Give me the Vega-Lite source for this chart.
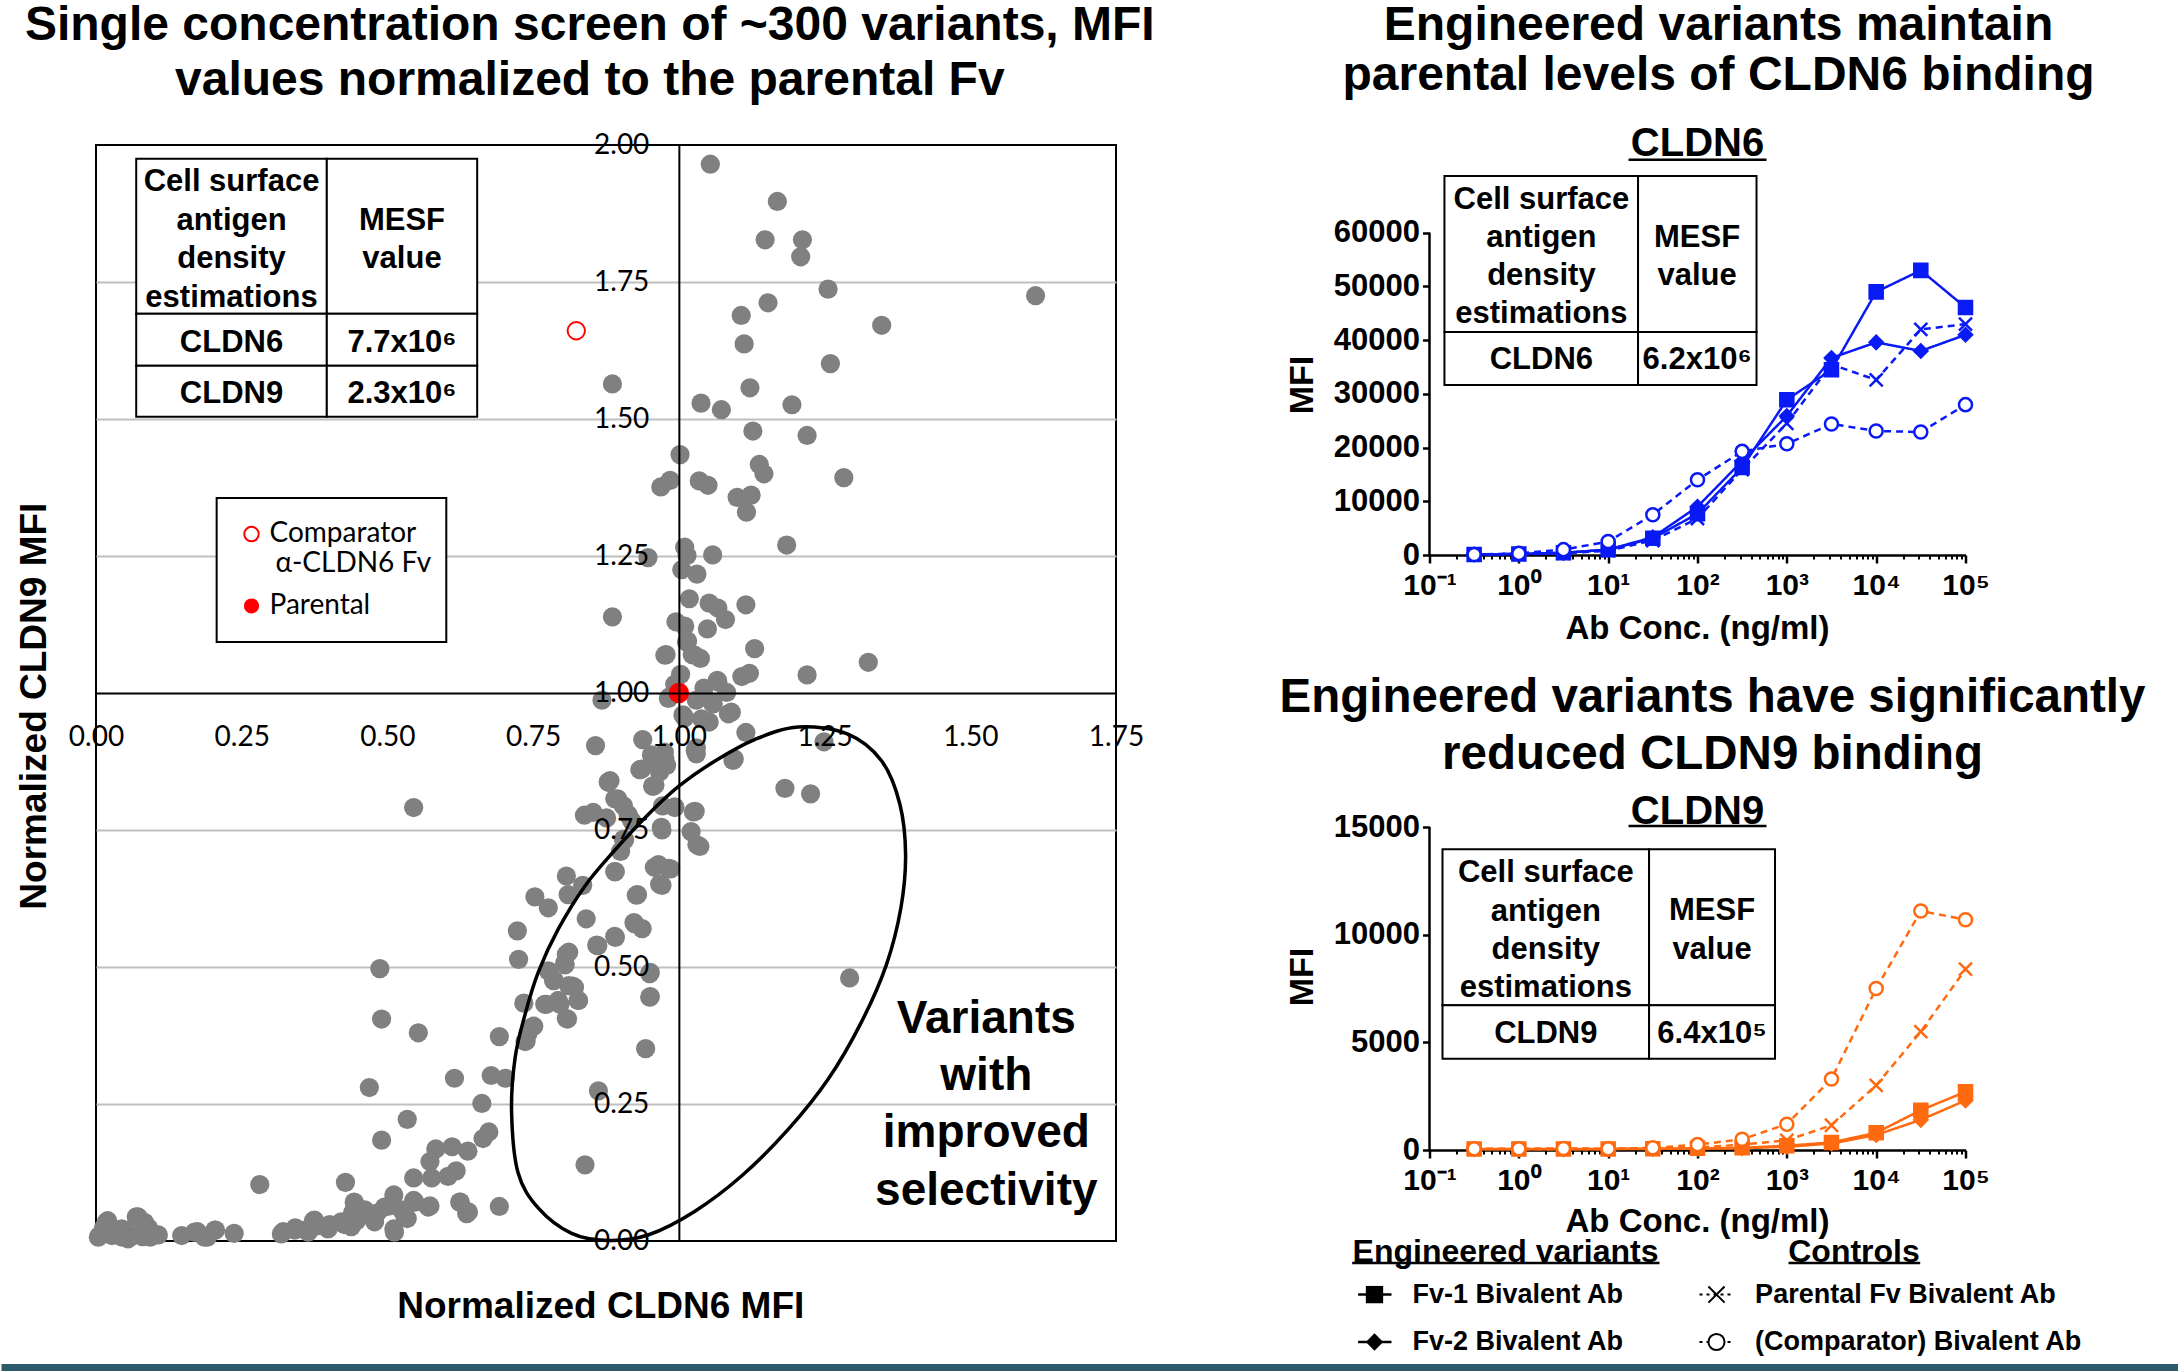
{
"$schema": "https://vega.github.io/schema/vega-lite/v6.json",
"background": "white",
"padding": 0,
"config": {"view": {"stroke": null}},
"bounds": "flush",
"spacing": 313.5,
"datasets": {
"pts": [
{"x":1.054,"y":1.965},{"x":1.169,"y":1.897},{"x":1.148,"y":1.827},{"x":1.212,"y":1.827},{"x":1.209,"y":1.796},{"x":1.256,"y":1.737},{"x":1.612,"y":1.725},{"x":1.153,"y":1.712},{"x":1.107,"y":1.689},{"x":1.348,"y":1.671},{"x":1.112,"y":1.637},{"x":1.26,"y":1.601},{"x":0.886,"y":1.564},{"x":1.122,"y":1.557},{"x":1.038,"y":1.529},{"x":1.073,"y":1.517},{"x":1.194,"y":1.526},{"x":1.127,"y":1.478},{"x":1.22,"y":1.47},{"x":1.002,"y":1.435},{"x":1.138,"y":1.417},{"x":1.146,"y":1.4},{"x":1.283,"y":1.393},{"x":0.969,"y":1.376},{"x":0.985,"y":1.388},{"x":1.035,"y":1.387},{"x":1.05,"y":1.379},{"x":1.1,"y":1.357},{"x":1.124,"y":1.361},{"x":1.116,"y":1.33},{"x":1.185,"y":1.27},{"x":1.01,"y":1.266},{"x":0.947,"y":1.247},{"x":1.058,"y":1.252},{"x":1.014,"y":1.251},{"x":1.005,"y":1.225},{"x":1.031,"y":1.217},{"x":1.018,"y":1.172},{"x":1.052,"y":1.164},{"x":1.067,"y":1.155},{"x":1.08,"y":1.134},{"x":1.115,"y":1.161},{"x":0.886,"y":1.139},{"x":0.995,"y":1.13},{"x":1.01,"y":1.122},{"x":1.049,"y":1.117},{"x":1.015,"y":1.095},{"x":1.13,"y":1.081},{"x":0.978,"y":1.07},{"x":1.023,"y":1.07},{"x":1.037,"y":1.063},{"x":1.325,"y":1.056},{"x":1.22,"y":1.033},{"x":1.108,"y":1.03},{"x":1.121,"y":1.036},{"x":1.003,"y":1.034},{"x":0.993,"y":1.016},{"x":1.066,"y":1.023},{"x":1.082,"y":1.001},{"x":1.043,"y":1.009},{"x":0.984,"y":0.993},{"x":1.03,"y":0.987},{"x":0.868,"y":0.987},{"x":1.059,"y":0.98},{"x":1.085,"y":0.962},{"x":1.01,"y":0.955},{"x":1.052,"y":0.947},{"x":1.115,"y":0.928},{"x":0.938,"y":0.915},{"x":0.857,"y":0.904},{"x":1.03,"y":0.9},{"x":1.249,"y":0.911},
{"x":0.976,"y":1.069},{"x":1.013,"y":1.093},{"x":1.027,"y":1.069},{"x":1.067,"y":1.02},{"x":1.056,"y":0.984},{"x":1.039,"y":0.953},{"x":1.007,"y":0.96},{"x":0.982,"y":0.99},{"x":1.09,"y":0.965},{"x":0.953,"y":0.887},{"x":0.976,"y":0.88},{"x":0.967,"y":0.856},{"x":1.03,"y":0.889},{"x":1.093,"y":0.877},{"x":0.959,"y":0.832},{"x":0.993,"y":0.792},{"x":0.879,"y":0.838},{"x":0.89,"y":0.807},{"x":1.025,"y":0.783},
{"x":0.975,"y":0.892},{"x":0.961,"y":0.878},{"x":0.936,"y":0.861},{"x":0.979,"y":0.868},{"x":1.028,"y":0.895},{"x":0.882,"y":0.84},{"x":0.955,"y":0.83},{"x":0.895,"y":0.807},{"x":0.905,"y":0.794},{"x":0.838,"y":0.777},{"x":0.853,"y":0.782},{"x":0.972,"y":0.794},{"x":0.993,"y":0.791},{"x":1.028,"y":0.784},{"x":0.919,"y":0.767},{"x":0.971,"y":0.75},{"x":0.905,"y":0.733},{"x":1.021,"y":0.747},{"x":1.031,"y":0.723},{"x":0.9,"y":0.711},{"x":0.545,"y":0.791},{"x":0.958,"y":0.682},{"x":0.986,"y":0.679},{"x":0.891,"y":0.674},{"x":0.971,"y":0.649},{"x":0.807,"y":0.666},{"x":0.835,"y":0.649},{"x":0.81,"y":0.632},{"x":0.929,"y":0.632},{"x":0.753,"y":0.628},{"x":0.776,"y":0.608},{"x":0.841,"y":0.588},{"x":0.923,"y":0.581},{"x":0.937,"y":0.57},{"x":0.723,"y":0.566},{"x":0.891,"y":0.554},{"x":0.861,"y":0.539},{"x":0.811,"y":0.527},{"x":0.804,"y":0.507},{"x":0.725,"y":0.514},{"x":0.776,"y":0.493},{"x":0.487,"y":0.497},{"x":0.951,"y":0.49},{"x":0.786,"y":0.476},{"x":0.811,"y":0.466},{"x":0.821,"y":0.463},{"x":0.951,"y":0.446},{"x":0.734,"y":0.434},{"x":0.773,"y":0.432},{"x":0.793,"y":0.439},{"x":0.828,"y":0.439},{"x":0.809,"y":0.405},{"x":0.49,"y":0.405},{"x":0.553,"y":0.38},{"x":0.751,"y":0.392},{"x":0.741,"y":0.378},{"x":0.738,"y":0.365},{"x":0.692,"y":0.373},{"x":0.943,"y":0.351},{"x":0.615,"y":0.297},{"x":0.678,"y":0.302},{"x":0.702,"y":0.297},{"x":0.469,"y":0.28},{"x":0.662,"y":0.251},{"x":0.862,"y":0.274},{"x":0.534,"y":0.222},{"x":0.674,"y":0.199},{"x":0.664,"y":0.187},{"x":0.49,"y":0.184},{"x":0.583,"y":0.168},{"x":0.611,"y":0.172},{"x":0.638,"y":0.164},{"x":0.573,"y":0.145},{"x":0.618,"y":0.128},{"x":0.604,"y":0.118},{"x":0.545,"y":0.115},{"x":0.576,"y":0.115},{"x":0.839,"y":0.139},{"x":0.281,"y":0.103},{"x":0.428,"y":0.107},{"x":0.511,"y":0.084},{"x":0.545,"y":0.074},{"x":0.443,"y":0.071},{"x":0.625,"y":0.071},{"x":0.573,"y":0.064},{"x":0.692,"y":0.063},{"x":0.639,"y":0.053},{"x":0.461,"y":0.057},{"x":0.482,"y":0.051},{"x":0.503,"y":0.064},{"x":0.524,"y":0.057},{"x":0.534,"y":0.041},{"x":0.511,"y":0.022},{"x":0.447,"y":0.037},{"x":0.426,"y":0.03},{"x":0.401,"y":0.03},{"x":0.377,"y":0.027},{"x":0.359,"y":0.02},{"x":0.373,"y":0.037},{"x":0.342,"y":0.024},{"x":0.321,"y":0.017},{"x":0.237,"y":0.014},{"x":0.205,"y":0.02},{"x":0.191,"y":0.007},{"x":0.174,"y":0.017},{"x":0.147,"y":0.01},{"x":0.107,"y":0.011},{"x":0.09,"y":0.024},{"x":0.072,"y":0.044},{"x":0.083,"y":0.034},{"x":0.048,"y":0.02},{"x":0.02,"y":0.037},{"x":0.006,"y":0.01},{"x":0.027,"y":0.01},{"x":0.045,"y":0.007},{"x":0.065,"y":0.01},{"x":0.093,"y":0.007},{"x":0.013,"y":0.024},{"x":0.034,"y":0.02},{"x":0.475,"y":0.044},{"x":0.44,"y":0.051},
{"x":1.095,"y":0.88},{"x":1.182,"y":0.826},{"x":1.226,"y":0.816},{"x":1.036,"y":0.72},{"x":1.293,"y":0.48},
{"x":0.879,"y":0.837},{"x":0.913,"y":0.778},{"x":0.876,"y":0.772},{"x":0.907,"y":0.732},{"x":0.89,"y":0.674},{"x":0.956,"y":0.83},{"x":0.933,"y":0.86},{"x":0.965,"y":0.687},{"x":0.982,"y":0.68},{"x":0.967,"y":0.651},{"x":0.97,"y":0.755},{"x":0.927,"y":0.631},{"x":0.924,"y":0.579},{"x":0.89,"y":0.556},{"x":0.859,"y":0.54},{"x":0.807,"y":0.523},{"x":0.805,"y":0.504},{"x":0.785,"y":0.475},{"x":0.818,"y":0.465},{"x":0.827,"y":0.439},{"x":0.77,"y":0.432},{"x":0.796,"y":0.432},{"x":0.807,"y":0.406},{"x":0.95,"y":0.488},{"x":0.95,"y":0.445},{"x":0.747,"y":0.39},{"x":0.736,"y":0.364},
{"x":0.004,"y":0.007},{"x":0.018,"y":0.035},{"x":0.032,"y":0.011},{"x":0.044,"y":0.022},{"x":0.055,"y":0.004},{"x":0.069,"y":0.044},{"x":0.084,"y":0.029},{"x":0.08,"y":0.008},{"x":0.101,"y":0.011},{"x":0.169,"y":0.016},{"x":0.186,"y":0.007},{"x":0.204,"y":0.02},{"x":0.318,"y":0.013},{"x":0.341,"y":0.02},{"x":0.364,"y":0.016},{"x":0.375,"y":0.038},{"x":0.398,"y":0.022},{"x":0.421,"y":0.035},{"x":0.438,"y":0.026},{"x":0.444,"y":0.068},{"x":0.478,"y":0.035},{"x":0.495,"y":0.062},{"x":0.512,"y":0.016},{"x":0.53,"y":0.044},{"x":0.547,"y":0.071},{"x":0.57,"y":0.062},{"x":0.624,"y":0.071},{"x":0.636,"y":0.05}
],
"ell": [
{"i":0,"x":1.205,"y":0.938},{"i":1,"x":1.29,"y":0.925},{"i":2,"x":1.348,"y":0.876},{"i":3,"x":1.379,"y":0.798},{"i":4,"x":1.389,"y":0.706},{"i":5,"x":1.381,"y":0.608},{"i":6,"x":1.356,"y":0.504},{"i":7,"x":1.313,"y":0.399},{"i":8,"x":1.256,"y":0.295},{"i":9,"x":1.188,"y":0.204},{"i":10,"x":1.108,"y":0.119},{"i":11,"x":1.027,"y":0.054},{"i":12,"x":0.947,"y":0.011},{"i":13,"x":0.879,"y":0.001},{"i":14,"x":0.816,"y":0.014},{"i":15,"x":0.759,"y":0.06},{"i":16,"x":0.724,"y":0.125},{"i":17,"x":0.713,"y":0.236},{"i":18,"x":0.719,"y":0.334},{"i":19,"x":0.736,"y":0.413},{"i":20,"x":0.759,"y":0.491},{"i":21,"x":0.793,"y":0.569},{"i":22,"x":0.839,"y":0.648},{"i":23,"x":0.89,"y":0.713},{"i":24,"x":0.947,"y":0.778},{"i":25,"x":1.0,"y":0.83},{"i":26,"x":1.062,"y":0.876},{"i":27,"x":1.13,"y":0.915}
],
"c6": [
{"s":"A","x":0.316,"y":100},{"s":"A","x":1,"y":200},{"s":"A","x":3.16,"y":400},{"s":"A","x":10,"y":1000},{"s":"A","x":31.6,"y":3100},{"s":"A","x":100,"y":7700},{"s":"A","x":316,"y":16300},{"s":"A","x":1000,"y":28900},{"s":"A","x":3160,"y":34500},{"s":"A","x":10000,"y":49000},{"s":"A","x":31600,"y":53000},{"s":"A","x":100000,"y":46100},
{"s":"B","x":0.316,"y":100},{"s":"B","x":1,"y":200},{"s":"B","x":3.16,"y":400},{"s":"B","x":10,"y":1000},{"s":"B","x":31.6,"y":3300},{"s":"B","x":100,"y":9000},{"s":"B","x":316,"y":17500},{"s":"B","x":1000,"y":25900},{"s":"B","x":3160,"y":36700},{"s":"B","x":10000,"y":39600},{"s":"B","x":31600,"y":38000},{"s":"B","x":100000,"y":41000},
{"s":"C","x":0.316,"y":50},{"s":"C","x":1,"y":100},{"s":"C","x":3.16,"y":300},{"s":"C","x":10,"y":800},{"s":"C","x":31.6,"y":2700},{"s":"C","x":100,"y":6800},{"s":"C","x":316,"y":15900},{"s":"C","x":1000,"y":24500},{"s":"C","x":3160,"y":35500},{"s":"C","x":10000,"y":32600},{"s":"C","x":31600,"y":42000},{"s":"C","x":100000,"y":43000},
{"s":"D","x":0.316,"y":100},{"s":"D","x":1,"y":300},{"s":"D","x":3.16,"y":1000},{"s":"D","x":10,"y":2500},{"s":"D","x":31.6,"y":7500},{"s":"D","x":100,"y":14000},{"s":"D","x":316,"y":19300},{"s":"D","x":1000,"y":20700},{"s":"D","x":3160,"y":24400},{"s":"D","x":10000,"y":23100},{"s":"D","x":31600,"y":22900},{"s":"D","x":100000,"y":28000}
],
"c9": [
{"s":"A","x":0.316,"y":50},{"s":"A","x":1,"y":50},{"s":"A","x":3.16,"y":50},{"s":"A","x":10,"y":50},{"s":"A","x":31.6,"y":60},{"s":"A","x":100,"y":80},{"s":"A","x":316,"y":100},{"s":"A","x":1000,"y":200},{"s":"A","x":3160,"y":350},{"s":"A","x":10000,"y":800},{"s":"A","x":31600,"y":1850},{"s":"A","x":100000,"y":2700},
{"s":"B","x":0.316,"y":40},{"s":"B","x":1,"y":40},{"s":"B","x":3.16,"y":40},{"s":"B","x":10,"y":40},{"s":"B","x":31.6,"y":50},{"s":"B","x":100,"y":60},{"s":"B","x":316,"y":80},{"s":"B","x":1000,"y":150},{"s":"B","x":3160,"y":300},{"s":"B","x":10000,"y":700},{"s":"B","x":31600,"y":1400},{"s":"B","x":100000,"y":2300},
{"s":"C","x":0.316,"y":50},{"s":"C","x":1,"y":50},{"s":"C","x":3.16,"y":50},{"s":"C","x":10,"y":50},{"s":"C","x":31.6,"y":70},{"s":"C","x":100,"y":120},{"s":"C","x":316,"y":250},{"s":"C","x":1000,"y":450},{"s":"C","x":3160,"y":1150},{"s":"C","x":10000,"y":3000},{"s":"C","x":31600,"y":5500},{"s":"C","x":100000,"y":8400},
{"s":"D","x":0.316,"y":60},{"s":"D","x":1,"y":60},{"s":"D","x":3.16,"y":70},{"s":"D","x":10,"y":60},{"s":"D","x":31.6,"y":100},{"s":"D","x":100,"y":250},{"s":"D","x":316,"y":500},{"s":"D","x":1000,"y":1200},{"s":"D","x":3160,"y":3300},{"s":"D","x":10000,"y":7500},{"s":"D","x":31600,"y":11100},{"s":"D","x":100000,"y":10700}
]
},
"hconcat": [
{
"width": 1020, "height": 1096,
"view": {"stroke": "black", "strokeWidth": 2},
"encoding": {
"x": {"field": "x", "type": "quantitative", "scale": {"domain": [0, 1.75], "nice": false, "zero": false}, "axis": null},
"y": {"field": "y", "type": "quantitative", "scale": {"domain": [0, 2], "nice": false, "zero": false}, "axis": null}
},
"resolve": {"axis": {"x": "independent", "y": "independent"}},
"layer": [
{"data": {"values": [{"x": -0.16213, "x2": 3.5746, "y": -0.2245, "y2": -0.2409}]},
 "mark": {"type": "rect", "color": "#2C5A6B"},
 "encoding": {
  "y": {"field": "y", "type": "quantitative", "scale": {"domain": [0, 2], "nice": false, "zero": false},
   "axis": {"orient": "left", "grid": true, "gridColor": "#BFBFBF", "gridWidth": 2, "labels": false, "ticks": false, "domain": false, "title": null, "values": [0.25, 0.5, 0.75, 1.25, 1.5, 1.75], "zindex": 0}},
  "x2": {"field": "x2"}, "y2": {"field": "y2"}}},
{"data": {"values": [
  {"x": 0.069, "x2": 0.396, "y": 1.692, "y2": 1.975}, {"x": 0.396, "x2": 0.654, "y": 1.692, "y2": 1.975},
  {"x": 0.069, "x2": 0.396, "y": 1.597, "y2": 1.692}, {"x": 0.396, "x2": 0.654, "y": 1.597, "y2": 1.692},
  {"x": 0.069, "x2": 0.396, "y": 1.504, "y2": 1.597}, {"x": 0.396, "x2": 0.654, "y": 1.504, "y2": 1.597},
  {"x": 0.207, "x2": 0.601, "y": 1.093, "y2": 1.356}]},
 "mark": {"type": "rect", "fill": "white", "stroke": "black", "strokeWidth": 2},
 "encoding": {"x2": {"field": "x2"}, "y2": {"field": "y2"}}},
{"data": {"name": "pts"},
 "mark": {"type": "circle", "size": 370, "color": "#808080", "opacity": 1},
 "encoding": {
  "x": {"field": "x", "type": "quantitative", "scale": {"domain": [0, 1.75], "nice": false, "zero": false},
   "axis": {"orient": "bottom", "offset": -548, "values": [0, 0.25, 0.5, 0.75, 1, 1.25, 1.5, 1.75], "format": ".2f", "grid": false, "ticks": false, "domainColor": "black", "domainWidth": 2, "labelFont": "Lato", "labelFontSize": 28, "labelColor": "black", "labelPadding": 30, "labelFlush": false, "labelOverlap": false, "title": null, "zindex": 1}},
  "y": {"field": "y", "type": "quantitative", "scale": {"domain": [0, 2], "nice": false, "zero": false},
   "axis": {"orient": "left", "offset": -582.86, "values": [0, 0.25, 0.5, 0.75, 1, 1.25, 1.5, 1.75, 2], "format": ".2f", "grid": false, "ticks": false, "domainColor": "black", "domainWidth": 2, "labelFont": "Lato", "labelFontSize": 28, "labelColor": "black", "labelPadding": 30, "labelFlush": false, "labelOverlap": false, "title": null, "zindex": 1}}}},
{"data": {"values": [{"x": 1, "y": 1}]}, "mark": {"type": "circle", "size": 420, "color": "#FF0000", "opacity": 1}},
{"data": {"values": [{"x": 0.2668, "y": 1.1588}]}, "mark": {"type": "circle", "size": 230, "color": "#FF0000", "opacity": 1}},
{"data": {"values": [{"x": 0.824, "y": 1.661}]}, "mark": {"type": "point", "size": 300, "color": "#FF0000", "strokeWidth": 2, "opacity": 1}},
{"data": {"values": [{"x": 0.2668, "y": 1.29}]}, "mark": {"type": "point", "size": 210, "color": "#FF0000", "strokeWidth": 2, "opacity": 1}},
{"data": {"name": "ell"}, "mark": {"type": "line", "interpolate": "cardinal-closed", "color": "black", "strokeWidth": 3.5}, "encoding": {"order": {"field": "i", "type": "quantitative"}}},
{"data": {"values": [{"x": 0.8472, "y": 2.2172, "t": "Single concentration screen of ~300 variants, MFI"}, {"x": 0.8472, "y": 2.1168, "t": "values normalized to the parental Fv"}]},
 "mark": {"type": "text", "font": "Liberation Sans", "fontWeight": "bold", "fontSize": 48, "align": "center", "baseline": "middle", "color": "black"},
 "encoding": {"text": {"field": "t"}}},
{"data": {"values": [
  {"x": 0.2325, "y": 1.932, "t": "Cell surface"}, {"x": 0.2325, "y": 1.861, "t": "antigen"}, {"x": 0.2325, "y": 1.792, "t": "density"}, {"x": 0.2325, "y": 1.721, "t": "estimations"},
  {"x": 0.525, "y": 1.861, "t": "MESF"}, {"x": 0.525, "y": 1.792, "t": "value"},
  {"x": 0.2325, "y": 1.639, "t": "CLDN6"}, {"x": 0.525, "y": 1.639, "t": "7.7x10⁶"},
  {"x": 0.2325, "y": 1.545, "t": "CLDN9"}, {"x": 0.525, "y": 1.545, "t": "2.3x10⁶"}]},
 "mark": {"type": "text", "font": "Liberation Sans", "fontWeight": "bold", "fontSize": 31, "align": "center", "baseline": "middle", "color": "black"},
 "encoding": {"text": {"field": "t"}}},
{"data": {"values": [{"x": 0.2977, "y": 1.29, "t": "Comparator"}, {"x": 0.2977, "y": 1.1588, "t": "Parental"}]},
 "mark": {"type": "text", "font": "Lato", "fontSize": 28, "align": "left", "baseline": "middle", "color": "black"},
 "encoding": {"text": {"field": "t"}}},
{"data": {"values": [{"x": 0.5753, "y": 1.2352, "t": "α-CLDN6 Fv"}]},
 "mark": {"type": "text", "font": "Lato", "fontSize": 28, "align": "right", "baseline": "middle", "color": "black"},
 "encoding": {"text": {"field": "t"}}},
{"data": {"values": [{"x": 1.5275, "y": 0.406, "t": "Variants"}, {"x": 1.5275, "y": 0.302, "t": "with"}, {"x": 1.5275, "y": 0.197, "t": "improved"}, {"x": 1.5275, "y": 0.092, "t": "selectivity"}]},
 "mark": {"type": "text", "font": "Liberation Sans", "fontWeight": "bold", "fontSize": 46, "align": "center", "baseline": "middle", "color": "black"},
 "encoding": {"text": {"field": "t"}}},
{"data": {"values": [{"x": 0.866, "y": -0.1204, "t": "Normalized CLDN6 MFI"}]},
 "mark": {"type": "text", "font": "Liberation Sans", "fontWeight": "bold", "fontSize": 37, "align": "center", "baseline": "middle", "color": "black"},
 "encoding": {"text": {"field": "t"}}},
{"data": {"values": [{"x": -0.1055, "y": 0.976, "t": "Normalized CLDN9 MFI"}]},
 "mark": {"type": "text", "font": "Liberation Sans", "fontWeight": "bold", "fontSize": 37, "align": "center", "baseline": "middle", "angle": 270, "color": "black"},
 "encoding": {"text": {"field": "t"}}}
]
},
{
"bounds": "flush",
"spacing": 40,
"resolve": {"scale": {"fill": "independent", "shape": "independent", "strokeDash": "independent"}},
"vconcat": [
{
"width": 536, "height": 410,
"encoding": {
"x": {"field": "x", "type": "quantitative", "scale": {"type": "log", "domain": [0.1, 100000], "nice": false}, "axis": null},
"y": {"field": "y", "type": "quantitative", "scale": {"domain": [0, 76350], "nice": false, "zero": false}, "axis": null}
},
"resolve": {"axis": {"x": "independent", "y": "independent"}},
"layer": [
{"data": {"values": [
  {"x": 0.147, "x2": 21.6, "y": 41527, "y2": 70577}, {"x": 21.6, "x2": 457.8, "y": 41527, "y2": 70577},
  {"x": 0.147, "x2": 21.6, "y": 31657, "y2": 41527}, {"x": 21.6, "x2": 457.8, "y": 31657, "y2": 41527}]},
 "mark": {"type": "rect", "fill": "white", "stroke": "black", "strokeWidth": 2},
 "encoding": {"x2": {"field": "x2"}, "y2": {"field": "y2"}}},
{"data": {"values": [{"x": 0.1, "y": 0, "y2": 60000}]},
 "mark": {"type": "rule", "strokeWidth": 2.5, "color": "black"},
 "encoding": {
  "x": {"field": "x", "type": "quantitative", "scale": {"type": "log", "domain": [0.1, 100000], "nice": false},
   "axis": {"orient": "bottom", "values": [0.2,0.3,0.4,0.5,0.6,0.7,0.8,0.9,2,3,4,5,6,7,8,9,20,30,40,50,60,70,80,90,200,300,400,500,600,700,800,900,2000,3000,4000,5000,6000,7000,8000,9000,20000,30000,40000,50000,60000,70000,80000,90000], "tickSize": 4, "tickWidth": 2, "tickColor": "black", "labels": false, "domain": false, "grid": false, "title": null}},
  "y": {"field": "y", "type": "quantitative", "scale": {"domain": [0, 76350], "nice": false, "zero": false},
   "axis": {"orient": "left", "values": [0, 10000, 20000, 30000, 40000, 50000, 60000], "format": "d", "tickSize": 7, "tickWidth": 2.5, "tickColor": "black", "domain": false, "labelFont": "Liberation Sans", "labelFontWeight": "bold", "labelFontSize": 31, "labelColor": "black", "labelPadding": 3, "labelFlush": false, "labelOverlap": false, "grid": false, "title": null}},
  "y2": {"field": "y2"}}},
{"data": {"name": "c6"},
 "mark": {"type": "line", "color": "#0A1AF5", "strokeWidth": 2.5},
 "encoding": {
  "x": {"field": "x", "type": "quantitative", "scale": {"type": "log", "domain": [0.1, 100000], "nice": false},
   "axis": {"orient": "bottom", "values": [0.1, 1, 10, 100, 1000, 10000, 100000], "labelExpr": "'10' + (datum.value < 0.5 ? '⁻¹' : datum.value < 5 ? '⁰' : datum.value < 50 ? '¹' : datum.value < 500 ? '²' : datum.value < 5000 ? '³' : datum.value < 50000 ? '⁴' : '⁵')", "tickSize": 8, "tickWidth": 2.5, "tickColor": "black", "domainColor": "black", "domainWidth": 2.5, "labelFont": "Liberation Sans", "labelFontWeight": "bold", "labelFontSize": 30, "labelColor": "black", "labelPadding": 7, "labelFlush": false, "labelOverlap": false, "grid": false, "title": null}},
  "detail": {"field": "s"},
  "strokeDash": {"field": "s", "type": "nominal", "scale": {"domain": ["A", "B", "C", "D"], "range": [[1, 0], [1, 0], [7, 5], [7, 5]]}, "legend": null}}},
{"data": {"name": "c6"},
 "mark": {"type": "point", "filled": true, "stroke": "#0A1AF5", "strokeWidth": 2.5, "size": 170, "opacity": 1},
 "encoding": {
  "shape": {"field": "s", "type": "nominal", "scale": {"domain": ["A", "B", "C", "D"], "range": ["square", "diamond", "M-1,-1L1,1M1,-1L-1,1", "circle"]}, "legend": null},
  "fill": {"field": "s", "type": "nominal", "scale": {"domain": ["A", "B", "C", "D"], "range": ["#0A1AF5", "#0A1AF5", "transparent", "white"]}, "legend": null}}},
{"data": {"values": [{"x": 171.8, "y": 98510, "t": "Engineered variants maintain"}, {"x": 171.8, "y": 89255, "t": "parental levels of CLDN6 binding"}]},
 "mark": {"type": "text", "font": "Liberation Sans", "fontWeight": "bold", "fontSize": 48, "align": "center", "baseline": "middle", "color": "black"},
 "encoding": {"text": {"field": "t"}}},
{"data": {"values": [{"x": 100, "y": 76536, "t": "CLDN6"}]},
 "mark": {"type": "text", "font": "Liberation Sans", "fontWeight": "bold", "fontSize": 40, "align": "center", "baseline": "middle", "color": "black"},
 "encoding": {"text": {"field": "t"}}},
{"data": {"values": [{"x": 16.9, "x2": 592, "y": 73594}]},
 "mark": {"type": "rule", "strokeWidth": 2.5, "color": "black"},
 "encoding": {"x2": {"field": "x2"}}},
{"data": {"values": [
  {"x": 1.789, "y": 66145, "t": "Cell surface"}, {"x": 1.789, "y": 59087, "t": "antigen"}, {"x": 1.789, "y": 52030, "t": "density"}, {"x": 1.789, "y": 44824, "t": "estimations"},
  {"x": 99, "y": 59087, "t": "MESF"}, {"x": 99, "y": 51881, "t": "value"},
  {"x": 1.789, "y": 36380, "t": "CLDN6"}, {"x": 99, "y": 36380, "t": "6.2x10⁶"}]},
 "mark": {"type": "text", "font": "Liberation Sans", "fontWeight": "bold", "fontSize": 31, "align": "center", "baseline": "middle", "color": "black"},
 "encoding": {"text": {"field": "t"}}},
{"data": {"values": [{"x": 0.003886, "y": 31657, "t": "MFI"}]},
 "mark": {"type": "text", "font": "Liberation Sans", "fontWeight": "bold", "fontSize": 34, "align": "center", "baseline": "middle", "angle": 270, "color": "black"},
 "encoding": {"text": {"field": "t"}}},
{"data": {"values": [{"x": 100, "y": -13780, "t": "Ab Conc. (ng/ml)"}]},
 "mark": {"type": "text", "font": "Liberation Sans", "fontWeight": "bold", "fontSize": 33, "align": "center", "baseline": "middle", "color": "black"},
 "encoding": {"text": {"field": "t"}}}
]
},
{
"width": 536, "height": 555,
"encoding": {
"x": {"field": "x", "type": "quantitative", "scale": {"type": "log", "domain": [0.1, 100000], "nice": false}, "axis": null},
"y": {"field": "y", "type": "quantitative", "scale": {"domain": [0, 25782], "nice": false, "zero": false}, "axis": null}
},
"resolve": {"axis": {"x": "independent", "y": "independent"}},
"layer": [
{"data": {"values": [
  {"x": 0.1398, "x2": 28.7, "y": 6722, "y2": 13969}, {"x": 28.7, "x2": 737.5, "y": 6722, "y2": 13969},
  {"x": 0.1398, "x2": 28.7, "y": 4237, "y2": 6722}, {"x": 28.7, "x2": 737.5, "y": 4237, "y2": 6722}]},
 "mark": {"type": "rect", "fill": "white", "stroke": "black", "strokeWidth": 2},
 "encoding": {"x2": {"field": "x2"}, "y2": {"field": "y2"}}},
{"data": {"values": [{"x": 0.1, "y": 0, "y2": 15000}]},
 "mark": {"type": "rule", "strokeWidth": 2.5, "color": "black"},
 "encoding": {
  "x": {"field": "x", "type": "quantitative", "scale": {"type": "log", "domain": [0.1, 100000], "nice": false},
   "axis": {"orient": "bottom", "values": [0.2,0.3,0.4,0.5,0.6,0.7,0.8,0.9,2,3,4,5,6,7,8,9,20,30,40,50,60,70,80,90,200,300,400,500,600,700,800,900,2000,3000,4000,5000,6000,7000,8000,9000,20000,30000,40000,50000,60000,70000,80000,90000], "tickSize": 4, "tickWidth": 2, "tickColor": "black", "labels": false, "domain": false, "grid": false, "title": null}},
  "y": {"field": "y", "type": "quantitative", "scale": {"domain": [0, 25782], "nice": false, "zero": false},
   "axis": {"orient": "left", "values": [0, 5000, 10000, 15000], "format": "d", "tickSize": 7, "tickWidth": 2.5, "tickColor": "black", "domain": false, "labelFont": "Liberation Sans", "labelFontWeight": "bold", "labelFontSize": 31, "labelColor": "black", "labelPadding": 3, "labelFlush": false, "labelOverlap": false, "grid": false, "title": null}},
  "y2": {"field": "y2"}}},
{"data": {"name": "c9"},
 "mark": {"type": "line", "color": "#FF6A10", "strokeWidth": 2.5},
 "encoding": {
  "x": {"field": "x", "type": "quantitative", "scale": {"type": "log", "domain": [0.1, 100000], "nice": false},
   "axis": {"orient": "bottom", "values": [0.1, 1, 10, 100, 1000, 10000, 100000], "labelExpr": "'10' + (datum.value < 0.5 ? '⁻¹' : datum.value < 5 ? '⁰' : datum.value < 50 ? '¹' : datum.value < 500 ? '²' : datum.value < 5000 ? '³' : datum.value < 50000 ? '⁴' : '⁵')", "tickSize": 8, "tickWidth": 2.5, "tickColor": "black", "domainColor": "black", "domainWidth": 2.5, "labelFont": "Liberation Sans", "labelFontWeight": "bold", "labelFontSize": 30, "labelColor": "black", "labelPadding": 7, "labelFlush": false, "labelOverlap": false, "grid": false, "title": null}},
  "detail": {"field": "s"},
  "strokeDash": {"field": "s", "type": "nominal", "scale": {"domain": ["A", "B", "C", "D"], "range": [[1, 0], [1, 0], [7, 5], [7, 5]]}, "legend": null}}},
{"data": {"name": "c9"},
 "mark": {"type": "point", "filled": true, "stroke": "#FF6A10", "strokeWidth": 2.5, "size": 170, "opacity": 1},
 "encoding": {
  "shape": {"field": "s", "type": "nominal", "scale": {"domain": ["A", "B", "C", "D"], "range": ["square", "diamond", "M-1,-1L1,1M1,-1L-1,1", "circle"]}, "legend": null},
  "fill": {"field": "s", "type": "nominal", "scale": {"domain": ["A", "B", "C", "D"], "range": ["#FF6A10", "#FF6A10", "transparent", "white"]}, "legend": null}}},
{"data": {"values": [{"x": 147.2, "y": 20983, "t": "Engineered variants have significantly"}, {"x": 147.2, "y": 18349, "t": "reduced CLDN9 binding"}]},
 "mark": {"type": "text", "font": "Liberation Sans", "fontWeight": "bold", "fontSize": 47.5, "align": "center", "baseline": "middle", "color": "black"},
 "encoding": {"text": {"field": "t"}}},
{"data": {"values": [{"x": 100, "y": 15720, "t": "CLDN9"}]},
 "mark": {"type": "text", "font": "Liberation Sans", "fontWeight": "bold", "fontSize": 40, "align": "center", "baseline": "middle", "color": "black"},
 "encoding": {"text": {"field": "t"}}},
{"data": {"values": [{"x": 16.9, "x2": 592, "y": 15051}, {"x": 0.01364, "x2": 37.56, "y": -5249}, {"x": 1044.5, "x2": 31117, "y": -5249}]},
 "mark": {"type": "rule", "strokeWidth": 2.5, "color": "black"},
 "encoding": {"x2": {"field": "x2"}}},
{"data": {"values": [
  {"x": 2.004, "y": 12872, "t": "Cell surface"}, {"x": 2.004, "y": 11042, "t": "antigen"}, {"x": 2.004, "y": 9291, "t": "density"}, {"x": 2.004, "y": 7544, "t": "estimations"},
  {"x": 145.4, "y": 11084, "t": "MESF"}, {"x": 145.4, "y": 9291, "t": "value"},
  {"x": 2.004, "y": 5393, "t": "CLDN9"}, {"x": 145.4, "y": 5393, "t": "6.4x10⁵"}]},
 "mark": {"type": "text", "font": "Liberation Sans", "fontWeight": "bold", "fontSize": 31, "align": "center", "baseline": "middle", "color": "black"},
 "encoding": {"text": {"field": "t"}}},
{"data": {"values": [{"x": 0.003886, "y": 8037, "t": "MFI"}]},
 "mark": {"type": "text", "font": "Liberation Sans", "fontWeight": "bold", "fontSize": 34, "align": "center", "baseline": "middle", "angle": 270, "color": "black"},
 "encoding": {"text": {"field": "t"}}},
{"data": {"values": [{"x": 100, "y": -3345, "t": "Ab Conc. (ng/ml)"}]},
 "mark": {"type": "text", "font": "Liberation Sans", "fontWeight": "bold", "fontSize": 33, "align": "center", "baseline": "middle", "color": "black"},
 "encoding": {"text": {"field": "t"}}},
{"data": {"values": [{"x": 0.709, "y": -4720, "t": "Engineered variants"}, {"x": 5649, "y": -4720, "t": "Controls"}]},
 "mark": {"type": "text", "font": "Liberation Sans", "fontWeight": "bold", "fontSize": 32, "align": "center", "baseline": "middle", "color": "black"},
 "encoding": {"text": {"field": "t"}}},
{"data": {"values": [{"x": 0.0645, "y": -6717, "t": "Fv-1 Bivalent Ab"}, {"x": 0.0645, "y": -8919, "t": "Fv-2 Bivalent Ab"}, {"x": 441.6, "y": -6717, "t": "Parental Fv Bivalent Ab"}, {"x": 441.6, "y": -8919, "t": "(Comparator) Bivalent Ab"}]},
 "mark": {"type": "text", "font": "Liberation Sans", "fontWeight": "bold", "fontSize": 27, "align": "left", "baseline": "middle", "color": "black"},
 "encoding": {"text": {"field": "t"}}},
{"data": {"values": [{"x": 0.01588, "x2": 0.03755, "y": -6717}, {"x": 0.01588, "x2": 0.03755, "y": -8919}]},
 "mark": {"type": "rule", "strokeWidth": 2.5, "color": "black"},
 "encoding": {"x2": {"field": "x2"}}},
{"data": {"values": [{"x": 105.3, "x2": 259.6, "y": -6717}, {"x": 105.3, "x2": 259.6, "y": -8919}]},
 "mark": {"type": "rule", "strokeWidth": 2, "color": "black", "strokeDash": [3, 4]},
 "encoding": {"x2": {"field": "x2"}}},
{"data": {"values": [{"x": 0.02423, "y": -6717, "s": "A"}, {"x": 0.02423, "y": -8919, "s": "B"}]},
 "mark": {"type": "point", "filled": true, "color": "black", "size": 300, "opacity": 1},
 "encoding": {"shape": {"field": "s", "type": "nominal", "scale": {"domain": ["A", "B", "C", "D"], "range": ["square", "diamond", "M-1,-1L1,1M1,-1L-1,1", "circle"]}, "legend": null}}},
{"data": {"values": [{"x": 163.2, "y": -6717, "s": "C"}, {"x": 163.2, "y": -8919, "s": "D"}]},
 "mark": {"type": "point", "filled": false, "fill": "white", "color": "black", "strokeWidth": 2, "size": 260, "opacity": 1},
 "encoding": {"shape": {"field": "s", "type": "nominal", "scale": {"domain": ["A", "B", "C", "D"], "range": ["square", "diamond", "M-1,-1L1,1M1,-1L-1,1", "circle"]}, "legend": null}}}
]
}
]
}
]
}
